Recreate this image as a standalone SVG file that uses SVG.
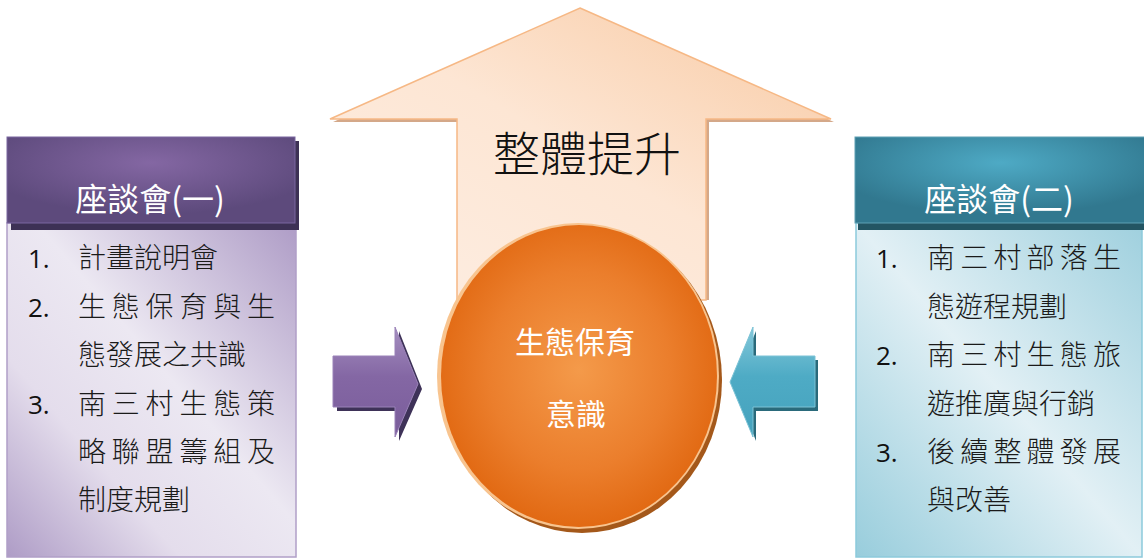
<svg xmlns="http://www.w3.org/2000/svg" width="1144" height="559" viewBox="0 0 1144 559">
<defs>
<linearGradient id="upG" x1="0" y1="1" x2="1" y2="0">
<stop offset="0" stop-color="#fdeee3"/><stop offset="0.5" stop-color="#fde6d4"/><stop offset="1" stop-color="#f8c9a2"/>
</linearGradient>
<radialGradient id="ballG" cx="0.5" cy="0.48" r="0.55">
<stop offset="0" stop-color="#f49a4a"/><stop offset="0.6" stop-color="#eb7e2c"/><stop offset="1" stop-color="#e0660f"/>
</radialGradient>
<linearGradient id="purA" x1="0" y1="0" x2="0" y2="1">
<stop offset="0" stop-color="#a58fc0"/><stop offset="0.45" stop-color="#8467a4"/><stop offset="1" stop-color="#7a5d9b"/>
</linearGradient>
<linearGradient id="tealA" x1="0" y1="0" x2="0" y2="1">
<stop offset="0" stop-color="#84c8da"/><stop offset="0.45" stop-color="#4eabc5"/><stop offset="1" stop-color="#45a2bd"/>
</linearGradient>
<radialGradient id="purH" cx="0.5" cy="0.3" r="0.6">
<stop offset="0" stop-color="#8467a3"/><stop offset="1" stop-color="#5d4a7c"/>
</radialGradient>
<radialGradient id="tealH" cx="0.5" cy="0.3" r="0.6">
<stop offset="0" stop-color="#4eaac5"/><stop offset="1" stop-color="#31788f"/>
</radialGradient>
<linearGradient id="purB" x1="1" y1="0" x2="0" y2="1">
<stop offset="0" stop-color="#ae9cc6"/><stop offset="0.45" stop-color="#ece8f2"/><stop offset="0.7" stop-color="#e4ddec"/><stop offset="1" stop-color="#ae9cc6"/>
</linearGradient>
<linearGradient id="tealB" x1="0" y1="1" x2="1" y2="0">
<stop offset="0" stop-color="#98cddc"/><stop offset="0.5" stop-color="#e2f0f5"/><stop offset="1" stop-color="#9fd0de"/>
</linearGradient>
<style>
.cjk{font-family:"Noto Sans CJK TC","Noto Sans CJK SC",sans-serif;}
.hd{font-size:32px;fill:#ffffff;text-anchor:middle;}
.it{font-size:28px;fill:#1a1a1a;font-weight:300;}
.num{font-family:"Open Sans","Liberation Sans",sans-serif;font-size:26px;fill:#111111;}
.ctr{font-size:30px;fill:#ffffff;text-anchor:middle;}
</style>
</defs>

<g id="up-arrow">
<path d="M583,11 L834,122 L709,122 L709,300 L460,300 L460,122 L333,122 Z" fill="#d4a889"/>
<path d="M580,8 L831,119 L706,119 L706,300 L457,300 L457,119 L330,119 Z" fill="url(#upG)" stroke="#f6b885" stroke-width="1.5"/>
<text x="587" y="171" class="cjk" font-size="47" font-weight="300" fill="#111111" text-anchor="middle">整體提升</text>
</g>

<g id="center-ball">
<ellipse cx="582" cy="380" rx="140" ry="153" fill="#a4581a"/>
<ellipse cx="578" cy="376" rx="141" ry="153" fill="#f8c48f"/>
<ellipse cx="579" cy="376" rx="138" ry="151" fill="url(#ballG)"/>
<text x="575" y="353" class="cjk ctr">生態保育</text>
<text x="576" y="425" class="cjk ctr">意識</text>
</g>

<g id="connectors">
<g id="left-arrow">
<path d="M337,360 L399,360 L399,331 L422,389 L399,441 L399,411 L337,411 Z" fill="#3e3258"/>
<path d="M333,356 L395,356 L395,327 L418,384 L395,437 L395,407 L333,407 Z" fill="url(#purA)" stroke="#9a82b8" stroke-width="1"/>
</g>
<g id="right-arrow">
<path d="M818,360 L756,360 L756,331 L734,385 L756,441 L756,411 L818,411 Z" fill="#2a6a7b"/>
<path d="M815,356 L753,356 L753,327 L730,382 L753,437 L753,407 L815,407 Z" fill="url(#tealA)" stroke="#7cc3d6" stroke-width="1"/>
</g>
</g>

<g id="box-left">
<rect x="7" y="223" width="289" height="334" fill="url(#purB)" stroke="#b09fc7" stroke-width="1.5"/>
<rect x="11" y="141" width="288" height="89" fill="#3d3155"/>
<rect x="7" y="137" width="288" height="86" fill="url(#purH)" stroke="#7a67a0" stroke-width="1"/>
<text x="150" y="211" class="cjk hd">座談會(一)</text>
<text x="28" y="268" class="num">1.</text>
<text x="78" y="268" class="cjk it">計畫說明會</text>
<text x="28" y="317" class="num">2.</text>
<text x="78" y="317" class="cjk it" textLength="197" lengthAdjust="spacing">生態保育與生</text>
<text x="78" y="365" class="cjk it">態發展之共識</text>
<text x="28" y="414" class="num">3.</text>
<text x="78" y="414" class="cjk it" textLength="197" lengthAdjust="spacing">南三村生態策</text>
<text x="78" y="462" class="cjk it" textLength="197" lengthAdjust="spacing">略聯盟籌組及</text>
<text x="78" y="510" class="cjk it">制度規劃</text>
</g>

<g id="box-right">
<rect x="856" y="223" width="286" height="334" fill="url(#tealB)" stroke="#8ccadb" stroke-width="1.5"/>
<rect x="858" y="141" width="290" height="89" fill="#235563"/>
<rect x="855" y="137" width="292" height="86" fill="url(#tealH)" stroke="#5fa0b3" stroke-width="1"/>
<text x="999" y="211" class="cjk hd">座談會(二)</text>
<text x="876" y="268" class="num">1.</text>
<text x="927" y="268" class="cjk it" textLength="194" lengthAdjust="spacing">南三村部落生</text>
<text x="927" y="317" class="cjk it">態遊程規劃</text>
<text x="876" y="365" class="num">2.</text>
<text x="927" y="365" class="cjk it" textLength="194" lengthAdjust="spacing">南三村生態旅</text>
<text x="927" y="414" class="cjk it">遊推廣與行銷</text>
<text x="876" y="462" class="num">3.</text>
<text x="927" y="462" class="cjk it" textLength="194" lengthAdjust="spacing">後續整體發展</text>
<text x="927" y="510" class="cjk it">與改善</text>
</g>
</svg>
